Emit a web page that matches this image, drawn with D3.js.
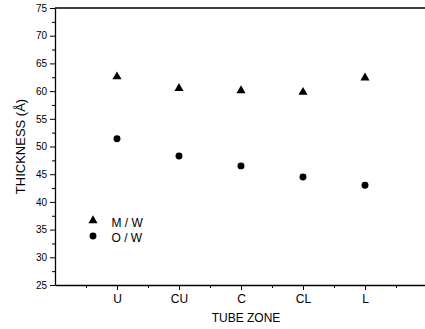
<!DOCTYPE html>
<html>
<head>
<meta charset="utf-8">
<script src="https://cdn.jsdelivr.net/npm/d3@7"></script>
<style>
  body { margin: 0; background: #fff; }
  svg { display: block; font-family: "Liberation Sans", Arial, sans-serif; }
</style>
</head>
<body>
<svg id="chart" width="425" height="329"></svg>
<script>
const zones = ['U', 'CU', 'C', 'CL', 'L'];
const mwValues = [62.6, 60.5, 60.1, 59.8, 62.4];
const owValues = [51.4, 48.3, 46.5, 44.5, 43.0];
const yTicks = [25, 30, 35, 40, 45, 50, 55, 60, 65, 70, 75];
const seriesNames = ['M / W', 'O / W'];

const svg = d3.select('#chart');

// zone index 1..5, axis runs 0..6 (right edge is cut off by the window)
const x = d3.scaleLinear().domain([0, 6]).range([55, 427]);
const y = d3.scaleLinear().domain([25, 75]).range([285, 8]);

const g = svg.append('g');

// top frame line
g.append('line')
  .attr('x1', x(0)).attr('x2', 425)
  .attr('y1', y(75)).attr('y2', y(75))
  .attr('stroke', '#000').attr('stroke-width', 1.3);

// minor y ticks
g.append('g')
  .attr('transform', `translate(${x(0)},0)`)
  .call(d3.axisLeft(y).tickValues(d3.range(27.5, 75, 5)).tickSize(3).tickFormat(''))
  .call(a => a.select('.domain').remove());

g.append('g')
  .attr('transform', `translate(${x(0)},0)`)
  .call(d3.axisLeft(y).tickValues(yTicks).tickSize(5).tickSizeOuter(0).tickPadding(3))
  .call(a => a.select('.domain').attr('stroke-width', 1.3))
  .call(a => a.selectAll('text').attr('font-size', 10).attr('fill', '#000'));

// minor x ticks
g.append('g')
  .attr('transform', `translate(0,${y(25)})`)
  .call(d3.axisBottom(x).tickValues(d3.range(0.5, 6, 1)).tickSize(3).tickFormat(''))
  .call(a => a.select('.domain').remove());

g.append('g')
  .attr('transform', `translate(0,${y(25)})`)
  .call(d3.axisBottom(x).tickValues([1, 2, 3, 4, 5]).tickSize(5).tickSizeOuter(0)
    .tickPadding(4).tickFormat(d => zones[d - 1]))
  .call(a => a.select('.domain').attr('stroke-width', 1.3))
  .call(a => a.selectAll('text').attr('font-size', 12).attr('fill', '#000'));

// axis titles
svg.append('text')
  .attr('x', 246).attr('y', 322)
  .attr('text-anchor', 'middle')
  .attr('font-size', 12)
  .text('TUBE ZONE');

svg.append('text')
  .attr('transform', 'translate(24.5,146.5) rotate(-90)')
  .attr('text-anchor', 'middle')
  .attr('font-size', 13)
  .text('THICKNESS (Å)');

const tri = d3.symbol().type(d3.symbolTriangle).size(36);
const dot = d3.symbol().type(d3.symbolCircle).size(38);

g.append('g').selectAll('path')
  .data(mwValues)
  .enter().append('path')
  .attr('d', tri)
  .attr('transform', (d, i) => `translate(${x(i + 1)},${y(d)})`)
  .attr('fill', '#000');

g.append('g').selectAll('path')
  .data(owValues)
  .enter().append('path')
  .attr('d', dot)
  .attr('transform', (d, i) => `translate(${x(i + 1)},${y(d)})`)
  .attr('fill', '#000');

// legend
const legend = svg.append('g').attr('transform', 'translate(93,220.5)');
[tri, dot].forEach((sym, i) => {
  legend.append('path')
    .attr('d', sym)
    .attr('transform', `translate(0,${i * 15.5})`)
    .attr('fill', '#000');
  legend.append('text')
    .attr('x', 18.5).attr('y', i * 15.5 + 6)
    .attr('font-size', 12)
    .text(seriesNames[i]);
});
</script>
</body>
</html>
